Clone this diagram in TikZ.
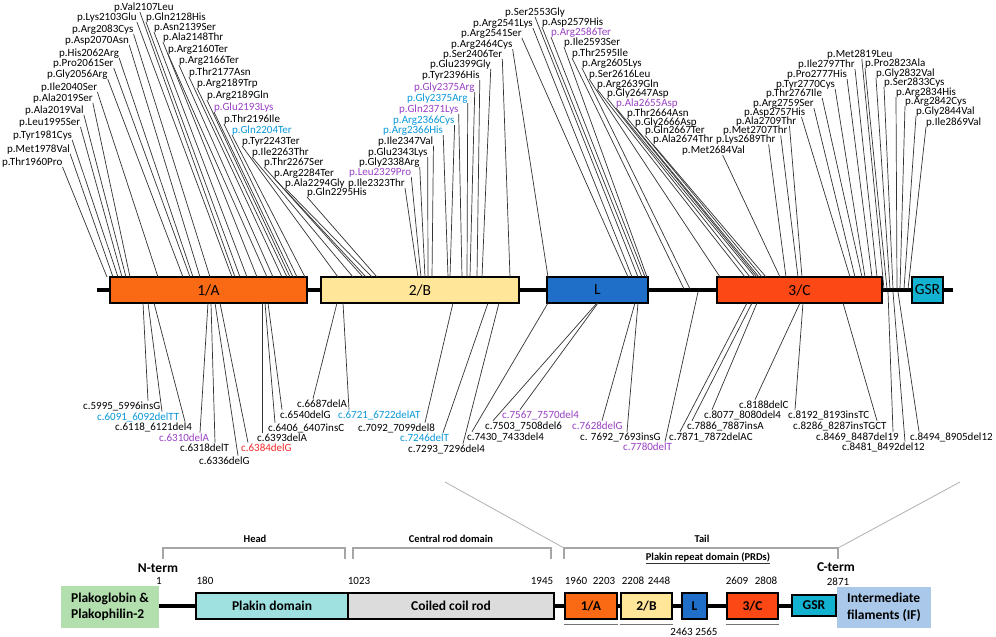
\documentclass[tikz,border=0pt]{standalone}
\usepackage{fontspec}
\setmainfont{Carlito}
\usetikzlibrary{calc}
\definecolor{cA}{HTML}{FA6A14}
\definecolor{cB}{HTML}{FFE699}
\definecolor{cL}{HTML}{1F6FC9}
\definecolor{cC}{HTML}{FB4814}
\definecolor{cG}{HTML}{12B2D0}
\definecolor{cPK}{HTML}{B3DFAF}
\definecolor{cPD}{HTML}{9FE0E0}
\definecolor{cCC}{HTML}{DCDCDC}
\definecolor{cIF}{HTML}{A9C8EA}
\definecolor{mpur}{HTML}{9A40C4}
\definecolor{mblue}{HTML}{0A98D8}
\definecolor{mred}{HTML}{F52A2A}
\definecolor{brk}{HTML}{A6A6A6}
\begin{document}
\begin{tikzpicture}[x=1pt,y=-1pt,
  lab/.style={font=\fontsize{11}{13}\selectfont, inner sep=0pt, anchor=base west},
  conn/.style={draw=black!80, line width=0.7pt},
  tbox/.style={draw=black, line width=1.4pt, minimum height=26pt, inner sep=0pt, font=\fontsize{15.5}{18}\selectfont},
  bbox/.style={draw=black, line width=1.6pt, minimum height=26pt, inner sep=0pt, font=\bfseries\fontsize{13.5}{16}\selectfont},
  num/.style={font=\fontsize{11}{13}\selectfont, inner sep=0pt},
  brkline/.style={draw=brk, line width=1.1pt},
  hdr/.style={font=\bfseries\fontsize{10.5}{12}\selectfont, inner sep=0pt},
  term/.style={font=\bfseries\fontsize{13.5}{16}\selectfont, inner sep=0pt},
]
\useasboundingbox (0,0) rectangle (996,637);
\fill[white] (0,0) rectangle (996,637);

% ---------- top bar ----------
\coordinate (barL) at (97,290);
\coordinate (barR) at (953,290);
\draw[line width=3.5pt] (barL) -- (barR);
\node[tbox,fill=cA,minimum width=197pt] (A) at (208.5,290) {1/A};
\node[tbox,fill=cB,minimum width=198pt] (B) at (420,290) {2/B};
\node[tbox,fill=cL,minimum width=101pt] (L) at (597.5,290) {L};
\node[tbox,fill=cC,minimum width=165pt] (C) at (799.5,290) {3/C};
\node[tbox,fill=cG,minimum width=31pt] (G) at (927.5,290) {GSR};

% ---------- top labels ----------
\foreach \n/\xs/\yy/\t/\c/\an/\dx/\tx/\ty in {
a1/2/161/p.Thr1960Pro/black/south east/0/107/277,
a2/7/148/p.Met1978Val/black/south east/0/113/277,
a3/13/134/p.Tyr1981Cys/black/south east/0/118/277,
a4/19/121/p.Leu1995Ser/black/south east/0/122/277,
a5/25/109/p.Ala2019Val/black/south east/0/126/277,
a6/33/97/p.Ala2019Ser/black/south east/0/130/277,
a7/41/86/p.Ile2040Ser/black/south east/0/158/277,
a8/47/73/p.Gly2056Arg/black/south east/0/183/277,
a9/53/62/p.Pro2061Ser/black/south east/0/190/277,
a10/59/52/p.His2062Arg/black/south east/0/193/277,
a11/65/39/p.Asp2070Asn/black/south east/0/200/277,
a12/72/28/p.Arg2083Cys/black/south east/0/210/277,
a13/77/16/p.Lys2103Glu/black/south east/0/232/277,
a14/114/6/p.Val2107Leu/black/south/-4/235/277,
a15/146/16/p.Gln2128His/black/south west/0/240/277,
a16/154/26/p.Asn2139Ser/black/south west/0/247/277,
a17/163/36/p.Ala2148Thr/black/south west/0/257/277,
a18/168/48/p.Arg2160Ter/black/south west/0/267/277,
a19/179/59/p.Arg2166Ter/black/south west/0/273/277,
a20/189/71/p.Thr2177Asn/black/south west/0/282/277,
a21/197/82/p.Arg2189Trp/black/south west/0/287/277,
a22/207/94/p.Arg2189Gln/black/south west/0/290/277,
a23/214/106/p.Glu2193Lys/mpur/south west/0/293/277,
a24/224/118/p.Thr2196Ile/black/south west/0/297/277,
a25/232/129/p.Gln2204Ter/mblue/south west/0/305/277,
a26/242/140/p.Tyr2243Ter/black/south west/0/338/277,
a27/252/151/p.Ile2263Thr/black/south west/0/353/277,
a28/264/161/p.Thr2267Ser/black/south west/0/363/277,
a29/274/172/p.Arg2284Ter/black/south west/0/366/277,
a30/285/182/p.Ala2294Gly/black/south west/0/372/277,
a31/307/191/p.Gln2295His/black/south west/0/377/277,
b1/348/182/p.Ile2323Thr/black/south east/0/418/277,
b2/349/171/p.Leu2329Pro/mpur/south east/0/421/277,
b3/359/161/p.Gly2338Arg/black/south east/0/425/277,
b4/368/151/p.Glu2343Lys/black/south east/0/428/277,
b5/378/140/p.Ile2347Val/black/south east/0/432/277,
b6/383/129/p.Arg2366His/mblue/south east/0/448/277,
b7/393/119/p.Arg2366Cys/mblue/south east/0/450/277,
b8/399/108/p.Gln2371Lys/mpur/south east/0/462/277,
b9/407/97/p.Gly2375Arg/mblue/south east/0/467/277,
b10/414/86/p.Gly2375Arg/mpur/south east/0/470/277,
b11/422/74/p.Tyr2396His/black/south east/0/477/277,
b12/430/63/p.Glu2399Gly/black/south east/0/482/277,
b13/443/53/p.Ser2406Ter/black/south east/0/510/277,
b14/451/43/p.Arg2464Cys/black/south east/0/548/277,
b15/461/32/p.Arg2541Ser/black/south east/0/628/277,
b16/473/22/p.Arg2541Lys/black/south east/0/632/277,
b17/505/11/p.Ser2553Gly/black/south/0/638/277,
c1/542/21/p.Asp2579His/black/south west/0/642/277,
c2/551/31/p.Arg2586Ter/mpur/south west/0/645/277,
c3/564/41/p.Ile2593Ser/black/south west/0/647/277,
c4/572/52/p.Thr2595Ile/black/south west/0/684/289,
c5/582/62/p.Arg2605Lys/black/south west/0/690/289,
c6/589/73/p.Ser2616Leu/black/south west/0/720/277,
c7/597/83/p.Arg2639Gln/black/south west/0/745/277,
c8/607/92/p.Gly2647Asp/black/south west/0/750/277,
c9/616/102/p.Ala2655Asp/mpur/south west/0/755/277,
c10/627/112/p.Thr2664Asn/black/south west/0/757/277,
c11/635/121/p.Gly2666Asp/black/south west/0/759/277,
c12/645/129.5/p.Gln2667Ter/black/south west/0/762/277,
c13/653/138.5/p.Ala2674Thr/black/south west/0/766/277,
c14/682/149/p.Met2684Val/black/south/9/780/277,
d1/716/138.5/p.Lys2689Thr/black/south east/-7/786/277,
d2/723/129.5/p.Met2707Thr/black/south east/-7/798/277,
d3/736/120/p.Ala2709Thr/black/south east/-7/802/277,
d4/744/111/p.Asp2757His/black/south east/-4/850/277,
d5/753/102/p.Arg2759Ser/black/south east/0/855/277,
d6/766/92/p.Thr2767Ile/black/south east/0/862/277,
d7/776/83/p.Tyr2770Cys/black/south east/0/865/277,
d8/787/73/p.Pro2777His/black/south east/0/872/277,
d9/798/63/p.Ile2797Thr/black/south east/0/877/277,
d10/827/53/p.Met2819Leu/black/south/2/884/289,
d11/865/62/p.Pro2823Ala/black/south west/0/887/289,
d12/876/72/p.Gly2832Val/black/south west/0/890/289,
d13/884/81/p.Ser2833Cys/black/south west/0/893/289,
d14/896/91/p.Arg2834His/black/south west/0/897/289,
d15/905/100/p.Arg2842Cys/black/south west/0/900/289,
d16/916/110/p.Gly2844Val/black/south west/0/904/289,
d17/926/121/p.Ile2869Val/black/south west/0/908/289}
{
  \node[lab,text=\c] (\n) at (\xs,\yy+4) {\t};
  \coordinate (\n-t) at (\tx,\ty);
  \draw[conn] ($(\n.\an)+(\dx,0)$) -- (\n-t);
}

% ---------- bottom labels ----------
\foreach \n/\xs/\yy/\t/\c/\sx/\sy/\ex in {
e1/83/405/c.5995\_5996insG/black/143/303/148,
e2/97/416/c.6091\_6092delTT/mblue/148/303/162,
e3/115/426/c.6118\_6121del4/black/154/303/185,
e4/159/437/c.6310delA/mpur/208/303/200,
e5/180/447/c.6318delT/black/211/303/215,
e6/199/460/c.6336delG/black/215/303/238,
e7/241/447/c.6384delG/mred/220/303/248,
e8/257/437/c.6393delA/black/262/303/262,
e9/268/427/c.6406\_6407insC/black/265/303/275,
e10/280/414/c.6540delG/black/268/303/282,
e11/297/403/c.6687delA/black/337/303/313,
e12/338/414/c.6721\_6722delAT/mblue/343/303/349,
e13/358/427/c.7092\_7099del8/black/453/303/425,
e14/400/437/c.7246delT/mblue/488/303/443,
e15/408/448/c.7293\_7296del4/black/499/303/463,
e16/467/436/c.7430\_7433del4/black/548/303/472,
e17/485/425/c.7503\_7508del6/black/597/303/493,
e18/502/414/c.7567\_7570del4/mpur/598/303/520,
e19/572/425/c.7628delG/mpur/635/303/602,
e20/580/436/c. 7692\_7693insG/black/638/303/627,
e21/623/446/c.7780delT/mpur/698/292/665,
e22/669/436/c.7871\_7872delAC/black/747/303/680,
e23/687/425/c.7886\_7887insA/black/752/303/692,
e24/704/414/c.8077\_8080del4/black/757/303/712,
e25/739/404/c.8188delC/black/800/303/755,
e26/788/414/c.8192\_8193insTC/black/803/303/795,
e27/793/425/c.8286\_8287insTGCT/black/843/303/877,
e28/816/436/c.8469\_8487del19/black/888/292/893,
e29/842/446/c.8481\_8492del12/black/893/292/905,
e30/910/436/c.8494\_8905del12/black/898/292/919}
{
  \node[lab,text=\c] (\n) at (\xs,\yy+4) {\t};
  \coordinate (\n-s) at (\sx,\sy);
  \draw[conn] (\n-s) -- ($(\n.north west)+(\ex-\xs,-0.5)$);
}

% ---------- zoom lines and brackets ----------
\coordinate (zl) at (445,482);
\coordinate (zr) at (960,482);
\coordinate (tl) at (564,548);
\coordinate (tr) at (838,548);
\draw[draw=brk!80, line width=0.9pt] (zl) -- (tl);
\draw[draw=brk!80, line width=0.9pt] (tr) -- (zr);
\draw[brkline] (163,559) -- (163,548) -- (345,548) -- (345,559);
\draw[brkline] (353,559) -- (353,548) -- (551,548) -- (551,559);
\draw[brkline] (564,559) -- (tl) -- (tr) -- (838,559);
\node[hdr] (head) at (255,539) {Head};
\node[hdr] (crd) at (451,539) {Central rod domain};
\node[hdr] (tail) at (702,539) {Tail};
\node[hdr] (prd) at (708,557) {Plakin repeat domain (PRDs)};
\draw[black!80, line width=0.7pt] ($(prd.south west)+(0,1)$) -- ($(prd.south east)+(0,1)$);

% ---------- bottom domain diagram ----------
\coordinate (b0) at (159,606);
\coordinate (b1) at (837,606);
\draw[line width=4pt] (b0) -- (b1);
\node[fill=cPK, minimum width=98pt, minimum height=42pt, inner sep=0pt, align=left, font=\bfseries\fontsize{13.5}{16.5}\selectfont] (pk) at (110,607) {Plakoglobin \&\\Plakophilin-2};
\node[fill=cIF, minimum width=94pt, minimum height=41pt, inner sep=0pt, align=left, font=\bfseries\fontsize{13.5}{16.5}\selectfont] (if) at (884,607.5) {Intermediate\\filaments (IF)};
\node[bbox,fill=cPD,minimum width=152pt] (pd) at (272,606) {Plakin domain};
\node[bbox,fill=cCC,minimum width=206pt] (cc) at (451,606) {Coiled coil rod};
\node[bbox,fill=cA,minimum width=52pt] (pA) at (591,606) {1/A};
\node[bbox,fill=cB,minimum width=51pt] (pB) at (646.5,606) {2/B};
\node[bbox,fill=cL,minimum width=25pt] (pL) at (694.5,606) {L};
\node[bbox,fill=cC,minimum width=51pt] (pC) at (752.5,606) {3/C};
\node[bbox,fill=cG,minimum width=44pt,minimum height=21pt] (pG) at (814,605.5) {GSR};
\draw[black!55, line width=0.8pt] ($(pA.south west)+(0,5)$) -- ($(pA.south east)+(0,5)$);
\draw[black!55, line width=0.8pt] ($(pB.south west)+(0,5)$) -- ($(pB.south east)+(0,5)$);
\draw[black!55, line width=0.8pt] ($(pC.south west)+(0,5)$) -- ($(pC.south east)+(0,5)$);

\node[term] (nt) at (158,568) {N-term};
\node[term] (ct) at (836,567) {C-term};
\node[num] (n1) at (159,581) {1};
\node[num] (n180) at (205,581) {180};
\node[num] (n1023) at (359,581) {1023};
\node[num] (n1945) at (542,581) {1945};
\node[num] (n1960) at (576,581) {1960};
\node[num] (n2203) at (604,581) {2203};
\node[num] (n2208) at (633,581) {2208};
\node[num] (n2448) at (659,581) {2448};
\node[num] (n2609) at (737,581) {2609};
\node[num] (n2808) at (766,581) {2808};
\node[num] (n2871) at (838,582) {2871};
\node[num] (n2463) at (694,632) {2463 2565};
\end{tikzpicture}
\end{document}
